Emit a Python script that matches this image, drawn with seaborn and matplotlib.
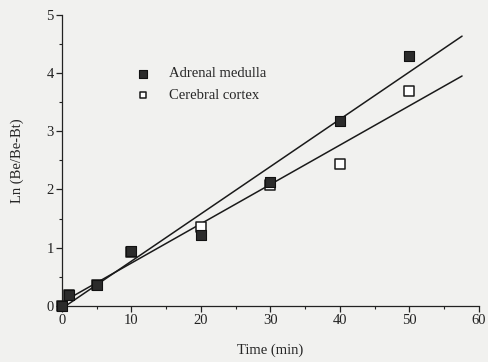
import numpy as np
import pandas as pd
import matplotlib
matplotlib.use('Agg')
import matplotlib.pyplot as plt
import seaborn as sns

time_min = [0, 1, 5, 10, 20, 30, 40, 50]
adrenal = [0.0, 0.18, 0.36, 0.95, 1.22, 2.13, 3.18, 4.30]
cortex = [0.0, 0.18, 0.36, 0.93, 1.35, 2.07, 2.43, 3.70]
fit_range = [0, 57.6]

sns.set_style('ticks')
plt.rcParams['font.family'] = ['Liberation Serif', 'DejaVu Serif']

bg = '#f1f1ef'
fig = plt.figure(figsize=(4.88, 3.62), dpi=100, facecolor=bg)
ax = fig.add_axes([0.127, 0.155, 0.854, 0.804], facecolor=bg)

# least-squares lines for each tissue
xf = np.array(fit_range)
for y in (adrenal, cortex):
    k, b = np.polyfit(time_min, y, 1)
    sns.lineplot(x=xf, y=k * xf + b, ax=ax, color='#1a1a1a', lw=1.1)

df_c = pd.DataFrame({'t': time_min, 'v': cortex})
df_a = pd.DataFrame({'t': time_min, 'v': adrenal})
sns.scatterplot(data=df_c, x='t', y='v', ax=ax, marker='s', s=42,
                facecolor='white', edgecolor='#1a1a1a', linewidth=1.1,
                clip_on=False, zorder=3, label='Cerebral cortex')
sns.scatterplot(data=df_a, x='t', y='v', ax=ax, marker='s', s=52,
                color='#2b2b2b', edgecolor='#111111', linewidth=0.8,
                clip_on=False, zorder=4, label='Adrenal medulla')

ax.set_xlim(0, 60)
ax.set_ylim(0, 5)
ax.set_xticks(range(0, 61, 10))
ax.set_xticks(range(0, 61, 5), minor=True)
ax.set_yticks(range(0, 6))
ax.set_yticks(np.arange(0, 5.01, 0.5), minor=True)
ax.tick_params(which='major', length=4, width=0.9, labelsize=10.5, pad=2,
               colors='#222222')
ax.tick_params(which='minor', length=2.5, width=0.8, colors='#222222')
for s in ('top', 'right'):
    ax.spines[s].set_visible(False)
for s in ('left', 'bottom'):
    ax.spines[s].set_linewidth(0.9)
    ax.spines[s].set_color('#222222')

ax.set_xlabel('Time (min)', fontsize=10.5, labelpad=12)
ax.set_ylabel('Ln (Be/Be-Bt)', fontsize=10.5, labelpad=16)

h, l = ax.get_legend_handles_labels()
ax.legend(h[::-1], l[::-1], loc='upper left', bbox_to_anchor=(0.128, 0.865),
          frameon=False, fontsize=10.5, handletextpad=0.8, labelspacing=0.55,
          markerscale=0.75)

fig.savefig('out.png', dpi=100, facecolor=bg)
